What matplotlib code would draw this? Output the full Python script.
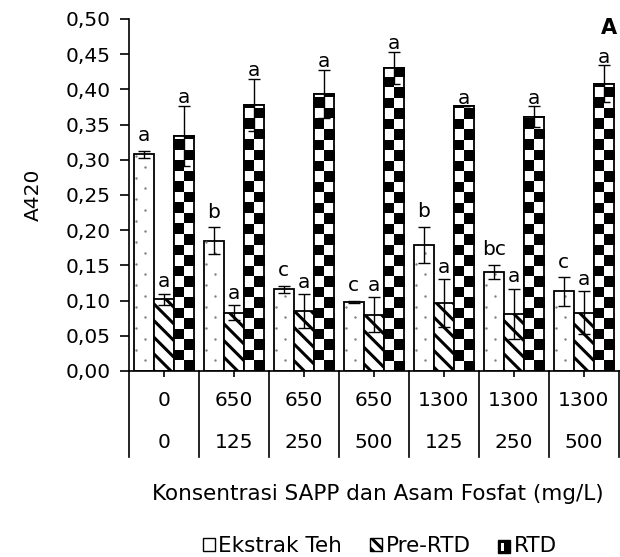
import numpy as np
import matplotlib
matplotlib.use('Agg')
import matplotlib.pyplot as plt
from matplotlib.patches import Rectangle
from matplotlib.legend_handler import HandlerBase

plt.rcParams['font.family'] = ['DejaVu Sans']
plt.rcParams['hatch.linewidth'] = 2.2

# ---- data ----
sapp = ['0', '650', '650', '650', '1300', '1300', '1300']
asam = ['0', '125', '250', '500', '125', '250', '500']
series = ['Ekstrak Teh', 'Pre-RTD', 'RTD']
ekstrak = [0.308, 0.185, 0.116, 0.098, 0.179, 0.141, 0.113]
ekstrak_sd = [0.005, 0.019, 0.005, 0.002, 0.026, 0.010, 0.020]
pre_rtd = [0.102, 0.083, 0.085, 0.080, 0.096, 0.081, 0.083]
pre_rtd_sd = [0.008, 0.011, 0.024, 0.025, 0.034, 0.036, 0.030]
rtd = [0.334, 0.378, 0.394, 0.430, 0.376, 0.361, 0.408]
rtd_sd = [0.043, 0.037, 0.034, 0.023, 0.0, 0.015, 0.026]
ekstrak_lbl = ['a', 'b', 'c', 'c', 'b', 'bc', 'c']
pre_rtd_lbl = ['a', 'a', 'a', 'a', 'a', 'a', 'a']
rtd_lbl = ['a', 'a', 'a', 'a', 'a', 'a', 'a']
yticks = [0.0, 0.05, 0.10, 0.15, 0.20, 0.25, 0.30, 0.35, 0.40, 0.45, 0.50]
ytick_labels = ['0,00', '0,05', '0,10', '0,15', '0,20', '0,25', '0,30',
                '0,35', '0,40', '0,45', '0,50']

W, H = 620, 557
fig = plt.figure(figsize=(W / 100, H / 100), dpi=100)
ax = fig.add_axes([129 / W, 1 - 371 / H, (619 - 129) / W, (371 - 19) / H])
ax.set_xlim(-0.5, len(sapp) - 0.5)
ax.set_ylim(0, 0.5)

x = np.arange(len(sapp))
w = 0.29
fs = 14.5
fs_big = 15.5

# pixel size -> data units
ax_h_px = ax.get_position().height * H
ax_w_px = ax.get_position().width * W
dy_per_px = 0.5 / ax_h_px
dx_per_px = len(sapp) / ax_w_px

# Ekstrak Teh: white with sparse gray dots
b1 = ax.bar(x - w, ekstrak, width=w, facecolor='white', edgecolor='black',
            linewidth=1.3, zorder=2)
for bar in b1:
    bx, bw, bh = bar.get_x(), bar.get_width(), bar.get_height()
    step = 21.5 * dy_per_px
    yc = np.arange(step * 0.5, bh, step)
    ye = np.arange(step, bh, step)
    xs = np.concatenate([np.full(len(yc), bx + bw * 0.55), np.full(len(ye), bx + 2 * dx_per_px)])
    ys = np.concatenate([yc, ye])
    sc = ax.scatter(xs, ys, s=3, color='#7f7f7f', zorder=2.5, linewidths=0)
    sc.set_clip_path(bar)

# Pre-RTD: diagonal stripes
b2 = ax.bar(x, pre_rtd, width=w, facecolor='white', edgecolor='black',
            linewidth=1.3, hatch='\\\\', zorder=2)

# RTD: checkerboard
b3 = ax.bar(x + w, rtd, width=w, facecolor='white', edgecolor='black',
            linewidth=1.3, zorder=2)
cell = 10.5 * dy_per_px
for bar in b3:
    bx, bw, bh = bar.get_x(), bar.get_width(), bar.get_height()
    n = int(np.ceil(bh / cell))
    arr = (np.add.outer(np.arange(n), np.arange(2)) % 2).astype(float)
    im = ax.imshow(arr, extent=[bx, bx + bw, 0, n * cell], origin='lower',
                   cmap='gray_r', vmin=0, vmax=1, interpolation='nearest',
                   aspect='auto', zorder=2.2)
    im.set_clip_path(bar)
ax.bar(x + w, rtd, width=w, fill=False, edgecolor='black', linewidth=1.3, zorder=3)
ax.set_xlim(-0.5, len(sapp) - 0.5)
ax.set_ylim(0, 0.5)

# error bars
for off, vals, sd in [(-w, ekstrak, ekstrak_sd), (0, pre_rtd, pre_rtd_sd), (w, rtd, rtd_sd)]:
    ax.errorbar(x + off, vals, yerr=sd, fmt='none', ecolor='black', elinewidth=1,
                capsize=4, capthick=1, zorder=4)

# significance letters
for off, vals, sd, lbls, pad in [(-w, ekstrak, ekstrak_sd, ekstrak_lbl, 7),
                                 (0, pre_rtd, pre_rtd_sd, pre_rtd_lbl, 4.5),
                                 (w, rtd, rtd_sd, rtd_lbl, 2.0)]:
    for xi, v, s, l in zip(x + off, vals, sd, lbls):
        ax.annotate(l, (xi, v + s), xytext=(0, pad), textcoords='offset points',
                    ha='center', va='baseline', fontsize=fs)

# axes styling
for sp in ['top', 'right']:
    ax.spines[sp].set_visible(False)
ax.spines['left'].set_linewidth(1.2)
ax.spines['bottom'].set_linewidth(1.2)
ax.set_yticks(yticks)
ax.set_yticklabels(ytick_labels, fontsize=fs)
ax.tick_params(axis='y', length=6.5, width=1.2, direction='out', pad=6.5)
ax.set_xticks(x)
ax.tick_params(axis='x', length=4, width=1.2, labelbottom=False)

# category table below axis
tr = ax.get_xaxis_transform()
for xi, s1, s2 in zip(x, sapp, asam):
    ax.text(xi, -29 / ax_h_px, s1, transform=tr, ha='center', va='center', fontsize=fs)
    ax.text(xi, -72 / ax_h_px, s2, transform=tr, ha='center', va='center', fontsize=fs)
for bnd in np.arange(-0.5, len(sapp)):
    ax.plot([bnd, bnd], [0, -86 / ax_h_px], transform=tr, color='black',
            lw=1.2, clip_on=False)

fig.text(378 / W, 1 - 494 / H, 'Konsentrasi SAPP dan Asam Fosfat (mg/L)',
         ha='center', va='center', fontsize=fs_big)
fig.text(33 / W, 1 - 195 / H, 'A420', rotation=90, ha='center', va='center', fontsize=fs)
fig.text(609 / W, 1 - 28 / H, 'A', ha='center', va='center', fontsize=15, fontweight='bold')


class CheckerHandler(HandlerBase):
    def create_artists(self, legend, orig_handle, xd, yd, width, height, fontsize, trans):
        arts = [Rectangle((xd, yd), width, height, facecolor='black',
                          edgecolor='black', lw=1, transform=trans),
                Rectangle((xd + width * 0.2, yd + height * 0.2), width * 0.3, height * 0.6,
                          facecolor='white', edgecolor='none', transform=trans)]
        return arts


h1 = Rectangle((0, 0), 1, 1, facecolor='white', edgecolor='black', lw=1)
h2 = Rectangle((0, 0), 1, 1, facecolor='white', edgecolor='black', lw=1, hatch='\\\\\\')
h3 = Rectangle((0, 0), 1, 1)
fig.legend([h1, h2, h3], series, loc='center', bbox_to_anchor=(380 / W, 1 - 546 / H),
           ncol=3, frameon=False, handlelength=0.55, handleheight=0.55,
           handletextpad=0.15, columnspacing=1.3, fontsize=fs_big,
           handler_map={h3: CheckerHandler()})

fig.savefig('out.png', dpi=100)
